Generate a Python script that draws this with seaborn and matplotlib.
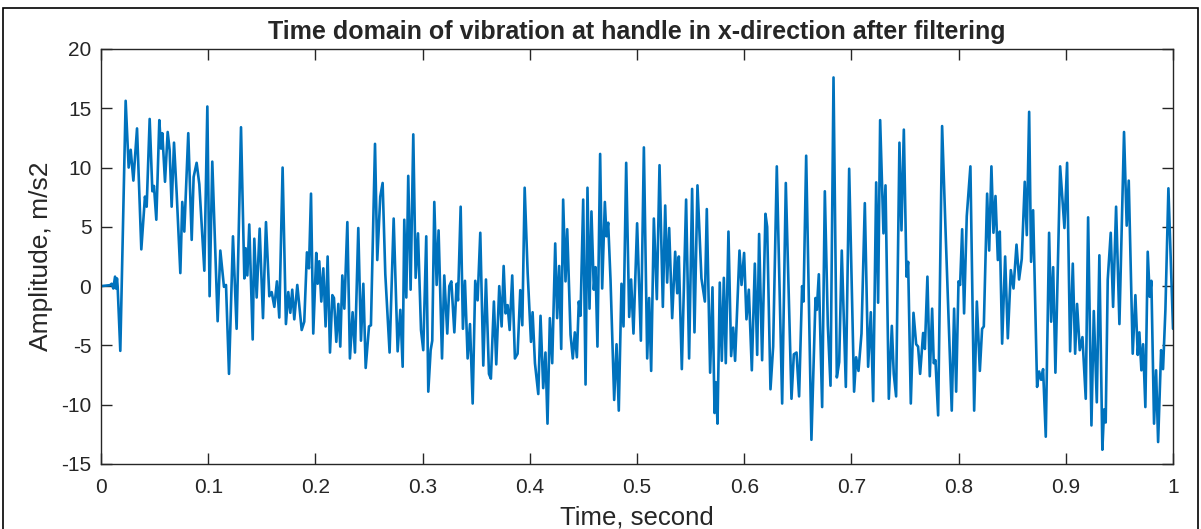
import matplotlib
matplotlib.use("Agg")
import matplotlib.pyplot as plt
import seaborn as sns
import pandas as pd
from matplotlib.patches import Rectangle

# vertices of the filtered signal (time in ms, amplitude in m/s2)
time_ms = [
    0.0, 8.4, 9.95, 11.5, 13.1, 14.0, 14.9, 15.5, 18.0, 23.0, 25.8, 27.7, 30.2, 33.6, 37.6, 41.0,
    42.6, 45.4, 47.9, 49.4, 51.6, 54.4, 56.0, 57.2, 59.7, 62.2, 64.0, 65.9, 68.1, 70.6, 74.0, 75.8,
    77.7, 81.4, 84.6, 86.4, 89.2, 91.7, 96.4, 99.2,
    101.3, 103.8, 108.8, 111.3, 114.7, 116.6, 119.4, 123.1, 126.5, 130.6, 133.7, 134.9, 136.5, 138.3,
    141.5, 143.0, 145.2, 148.0, 151.1, 153.9, 157.0, 159.2, 161.7, 164.1, 166.3, 169.4, 172.5, 174.7,
    176.6, 178.4, 180.3, 183.1, 187.2, 189.6, 192.1, 194.0, 195.9, 198.0, 200.8,
    202.1, 203.6, 205.5, 207.4, 209.5, 211.4, 213.6, 215.8, 217.3, 219.5, 221.4, 223.2, 225.1, 227.0,
    229.8, 232.2, 234.7, 236.9, 240.0, 242.5, 244.7, 246.9, 250.0, 251.8, 255.6, 257.7, 260.5, 262.7,
    265.2, 269.2, 273.0, 276.7, 279.2, 281.4, 282.9, 284.8, 286.6, 288.8, 291.3, 293.5, 295.7, 298.5,
    300.6, 303.4, 305.3,
    307.5, 309.0, 310.9, 313.1, 314.9, 318.1, 320.2, 323.0, 324.9, 326.8, 329.6, 331.7, 333.0, 335.5,
    337.6, 339.5, 342.0, 344.2, 346.7, 349.1, 351.3, 353.8, 356.6, 359.1, 361.9, 363.7, 366.5, 368.7,
    371.5, 373.7, 375.6, 377.4, 379.3, 381.2, 383.6, 386.1, 388.6, 391.1, 393.0, 395.2, 398.0, 401.1,
    402.6, 404.8, 407.9,
    410.0, 412.5, 414.6, 416.5, 418.7, 420.9, 423.7, 425.5, 427.4, 429.3, 431.1, 433.3, 434.9, 438.0,
    440.1, 442.0, 443.9, 445.7, 447.3, 449.8, 452.0, 453.8, 455.7, 457.5, 459.7, 461.3, 463.1, 465.6,
    467.5, 470.0, 471.5, 473.1, 475.3, 478.7, 480.9, 483.0, 485.5, 487.4, 489.9, 492.7, 494.5, 496.7,
    500.1, 503.6, 506.4, 509.5,
    511.3, 513.2, 515.7, 518.5, 521.0, 524.1, 526.3, 528.1, 530.0, 532.8, 535.6, 537.5, 539.0, 541.8,
    545.8, 548.6, 551.4, 553.6, 556.4, 560.1, 563.3, 565.1, 568.2, 570.4, 572.3, 573.5, 575.1, 577.2,
    579.1, 581.0, 582.8, 585.3, 587.8, 589.7, 591.5, 595.6, 597.5, 599.9, 602.1, 604.3, 607.1, 609.9,
    612.1, 613.9,
    616.7, 619.8, 621.4, 624.5, 627.0, 630.4, 635.4, 638.8, 644.1, 646.3, 648.8, 651.2, 654.0, 655.3,
    657.8, 662.7, 666.5, 667.7, 669.6, 672.7, 675.2, 678.0, 680.5, 683.3, 686.4, 688.6, 691.0, 694.8,
    697.9, 702.5, 704.4, 706.6, 709.4, 712.5, 715.6,
    718.1, 720.3, 723.1, 724.9, 726.8, 729.9, 731.8, 734.9, 737.7, 739.5, 741.7, 744.8, 746.7, 748.9,
    751.4, 752.9, 755.4, 757.9, 760.4, 762.2, 764.1, 766.9, 768.5, 770.9, 773.1, 775.3, 776.8, 778.4,
    780.9, 784.6, 788.0, 793.6, 795.8, 797.7, 799.9, 801.4, 803.3, 805.1, 807.6, 811.0, 814.5,
    817.0, 819.8, 821.9, 823.5, 826.6, 828.5, 830.6, 832.5, 834.4, 836.6, 838.4, 840.6, 843.4, 845.9,
    848.7, 851.2, 854.0, 856.4, 858.9, 861.7, 863.6, 865.8, 867.6, 869.5, 873.2, 875.1, 877.0, 878.8,
    881.3, 884.4, 886.3, 888.2, 890.3, 894.7, 898.7, 901.2, 904.0, 906.5, 908.7, 910.5, 913.0, 915.5,
    918.6, 920.8,
    923.9, 926.1, 928.9, 931.3, 934.1, 935.7, 937.2, 939.1, 941.9, 944.1, 946.9, 950.0, 954.3, 956.8,
    958.7, 962.4, 964.9, 967.1, 968.6, 970.5, 972.1, 974.2, 976.4, 978.3, 979.8, 982.3, 984.2, 986.1,
    988.9, 990.7, 992.9, 995.7, 1000.0,
]
amplitude = [
    0.0, 0.08, 0.2, -0.2, 0.8, -0.2, 0.65, 0.0, -5.46, 15.63, 10.0, 11.5, 8.9, 13.3, 3.1, 7.55,
    6.7, 14.1, 8.0, 8.45, 5.6, 14.0, 11.6, 12.9, 8.8, 13.0, 11.5, 6.7, 12.1, 7.8, 1.1, 7.1,
    4.6, 12.9, 3.9, 9.2, 10.4, 8.6, 1.3, 15.15,
    -0.85, 10.5, -2.96, 3.0, -0.06, 0.1, -7.4, 4.2, -3.6, 13.4, 0.65, 3.2, 0.9, 5.2,
    -4.5, 4.0, -0.96, 4.85, -2.7, 5.4, -0.85, -0.5, -1.75, 0.4, -2.65, 10.0, -3.2, -0.5,
    -2.25, -0.3, -2.8, 0.1, -3.7, -3.0, 2.85, 1.5, 7.8, -4.0, 2.8,
    0.2, 2.1, -1.3, 1.5, -3.4, 2.5, -5.6, -0.76, -1.0, -4.7, -1.5, -5.1, 0.9, -1.9,
    5.4, -6.1, -2.2, -5.6, 4.9, -4.6, 0.2, -6.9, -3.4, -3.3, 12.0, 2.2, 7.55, 8.7,
    1.0, -5.6, 5.7, -5.5, -2.0, -6.8, 5.6, -0.96, 9.3, -0.3, 12.8, 0.7, 4.45, -3.7,
    -5.4, 4.2, -8.9,
    -5.4, -4.6, 7.1, 0.1, 4.7, -6.1, 0.9, -4.0, 0.0, 0.4, -3.9, 0.2, -1.2, 6.7,
    -3.6, 0.45, -6.1, -3.2, -9.9, 0.45, -1.2, 4.5, -6.7, 0.56, -7.4, -7.8, -1.3, -6.6,
    0.0, -3.4, 1.7, -2.3, -1.6, -3.7, 0.9, -6.1, -5.7, -0.34, -3.3, 8.3, 1.1, -4.7,
    -2.2, -6.5, -9.1,
    -2.5, -8.6, -5.6, -11.6, -2.7, -6.5, 3.6, -2.7, 1.7, -5.3, 7.3, 0.4, 4.8, -4.1,
    -6.1, -3.9, -6.0, -1.3, -2.5, 7.3, -8.3, 8.3, -1.9, 6.3, -0.3, 1.6, -5.1, 11.15,
    -0.2, 7.1, 4.2, 5.35, 0.5, -9.6, -4.9, -10.5, 0.2, -3.4, 10.4, -2.6, 0.56, -4.0,
    5.3, -4.6, 11.7, -6.1,
    -1.0, -7.15, 5.7, -1.1, 10.2, -1.75, 6.8, 0.3, 4.9, -2.7, 2.9, -0.6, 2.5, -7.0,
    7.3, -6.1, 8.2, -3.9, 8.5, 0.65, -1.3, 6.5, -7.3, -0.1, -10.7, -8.1, -11.6, 0.3,
    -6.3, 0.7, -6.5, 4.6, -5.9, -3.5, -6.3, 3.0, 0.1, 2.8, -2.8, -0.3, -7.1, 1.9,
    -5.8, 4.4,
    -6.25, 6.1, 5.0, -8.7, -5.1, 10.1, -9.9, 8.7, -9.5, -5.75, -5.6, -9.3, 0.0, -1.3,
    11.0, -12.96, -1.0, -2.0, 1.0, -10.2, 8.0, -3.3, -8.4, 17.6, -7.7, -6.4, 3.0, -8.5,
    9.9, -8.9, -6.0, -7.15, -4.0, 7.0, -6.8,
    -2.2, -9.7, 8.75, -1.4, 14.0, 4.45, 8.5, -9.5, -3.35, -7.4, -9.3, 12.1, 4.7, 13.2,
    0.8, 2.05, -9.9, -2.25, -4.9, -5.1, -7.4, -3.95, -5.3, 0.8, -7.6, -1.9, -6.5, -6.25,
    -10.9, 13.5, 4.2, -10.5, -1.9, -8.9, 0.4, 0.1, 4.8, -2.3, 5.9, 10.1, -10.5,
    -1.3, -7.15, -3.6, -3.4, 7.8, 3.0, 10.1, 4.5, 7.6, 2.2, 4.6, -4.85, 2.5, -4.4,
    1.35, -0.2, 3.5, 0.56, 2.3, 8.8, 4.3, 14.7, 2.05, 6.4, -8.5, -7.2, -7.9, -7.0,
    -12.7, 4.5, -3.0, 1.6, -7.3, 10.1, 4.9, 10.4, -5.5, 1.9, -5.7, -1.5, -5.4, -4.3,
    -9.5, 5.8,
    -11.75, -2.1, -9.8, 2.6, -13.8, -10.4, -11.5, 0.56, 4.5, -1.75, 6.7, -3.2, 13.0, 5.1,
    8.9, -5.7, -0.76, -5.8, -3.9, -7.1, -4.9, -10.2, 2.9, -0.9, 0.45, -11.6, -7.1, -13.15,
    -5.4, -7.0, -2.0, 8.25, -3.6,
]

x_ticks = [0, 0.1, 0.2, 0.3, 0.4, 0.5, 0.6, 0.7, 0.8, 0.9, 1]
x_tick_labels = ["0", "0.1", "0.2", "0.3", "0.4", "0.5", "0.6", "0.7", "0.8", "0.9", "1"]
y_ticks = [-15, -10, -5, 0, 5, 10, 15, 20]

df = pd.DataFrame({"time": [t / 1000 for t in time_ms], "amp": amplitude})

sns.set_style("ticks")
plt.rcParams["font.family"] = ["Liberation Sans", "DejaVu Sans"]
plt.rcParams["axes.unicode_minus"] = False

fig = plt.figure(figsize=(12.01, 5.29), dpi=100)
ax = fig.add_axes([0.0841, 0.1229, 0.8926, 0.7845])

sns.lineplot(data=df, x="time", y="amp", sort=False, estimator=None,
             color="#0072BD", linewidth=1.9, ax=ax)

ax.set_xlim(0, 1)
ax.set_ylim(-15, 20)
ax.set_xticks(x_ticks)
ax.set_xticklabels(x_tick_labels)
ax.set_yticks(y_ticks)

edge = "#262626"
for s in ax.spines.values():
    s.set_visible(True)
    s.set_color(edge)
    s.set_linewidth(1.0)
ax.tick_params(direction="in", length=8, width=1.0, color=edge, labelsize=15,
               top=True, right=True, labelcolor=edge, pad=7)
ax.tick_params(axis="x", pad=10)

ax.set_title("Time domain of vibration at handle in x-direction after filtering",
             fontsize=18, fontweight="bold", pad=7)
ax.set_xlabel("Time, second", fontsize=18.5, color=edge, labelpad=6)
ax.set_ylabel("Amplitude, m/s2", fontsize=19, color=edge, labelpad=6)

# thin frame round the figure, as in the exported picture
fig.patches.append(Rectangle((0.0025, -0.05), 0.995, 1.035, transform=fig.transFigure,
                             fill=False, edgecolor="black", linewidth=1.2))

fig.savefig("out.png", dpi=100)
